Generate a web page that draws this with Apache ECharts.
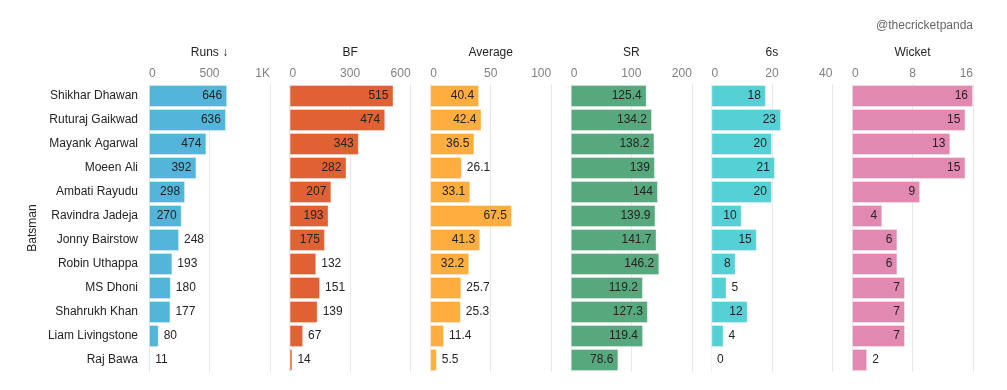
<!DOCTYPE html>
<html>
<head>
<meta charset="utf-8">
<script src="https://cdn.jsdelivr.net/npm/echarts@6/dist/echarts.min.js"></script>
<style>
html,body{margin:0;padding:0;background:#fff;}
#chart{width:1007px;height:390px;}
</style>
</head>
<body>
<div id="chart"></div>
<script>
const batsmen = ["Shikhar Dhawan","Ruturaj Gaikwad","Mayank Agarwal","Moeen Ali","Ambati Rayudu","Ravindra Jadeja","Jonny Bairstow","Robin Uthappa","MS Dhoni","Shahrukh Khan","Liam Livingstone","Raj Bawa"];
const runs    = [646,636,474,392,298,270,248,193,180,177,80,11];
const bf      = [515,474,343,282,207,193,175,132,151,139,67,14];
const average = [40.4,42.4,36.5,26.1,33.1,67.5,41.3,32.2,25.7,25.3,11.4,5.5];
const sr      = [125.4,134.2,138.2,139,144,139.9,141.7,146.2,119.2,127.3,119.4,78.6];
const sixes   = [18,23,20,21,20,10,15,8,5,12,4,0];
const wickets = [16,15,13,15,9,4,6,6,7,7,7,2];

const panelTitles = ["Runs \u2193","BF","Average","SR","6s","Wicket"];
const axisMax      = [1000,600,100,200,40,16];
const axisInterval = [500,300,50,100,20,8];
const colors = ["#53B5DA","#E06133","#FDAE3E","#57A87D","#55D0D4","#E289B1"];
const seriesData = [runs,bf,average,sr,sixes,wickets];

(function(){
const FONT = '"Liberation Sans", Arial, sans-serif';
const chart = echarts.init(document.getElementById('chart'), null, {renderer:'canvas'});

const ctx = document.createElement('canvas').getContext('2d');
ctx.font = '12px ' + FONT;

const left0 = 149, step = 140.6, gw = 121, gTop = 84, gh = 288;

function buildOption(pxFns){
  const grid = [], xAxis = [], yAxis = [], series = [];
  for (let i=0;i<6;i++){
    grid.push({left: left0 + step*i, top: gTop, width: gw, height: gh, containLabel:false});
    xAxis.push({
      type:'value', gridIndex:i, position:'top', min:0, max:axisMax[i], interval:axisInterval[i],
      name: panelTitles[i], nameLocation:'middle', nameGap:25,
      nameTextStyle:{color:'#252423', fontSize:12, fontFamily:FONT},
      axisLine:{show:false}, axisTick:{show:false},
      axisLabel:{color:'#808080', fontSize:12, fontFamily:FONT, margin:4,
        alignMinLabel:'left', alignMaxLabel:'right',
        formatter: v => v>=1000 ? (v/1000)+'K' : String(v)},
      splitLine:{show:true, lineStyle:{color:'#E6E9EE', width:1}}
    });
    yAxis.push({
      type:'category', gridIndex:i, data:batsmen, inverse:true,
      name: i===0 ? 'Batsman' : '', nameLocation:'middle', nameGap:110, nameRotate:90,
      nameTextStyle:{color:'#252423', fontSize:12, fontFamily:FONT},
      axisLine:{show:false}, axisTick:{show:false},
      axisLabel:{show:i===0, color:'#252423', fontSize:12, fontFamily:FONT, margin:11},
      splitLine:{show:false}
    });
    const vals = seriesData[i];
    const data = vals.map((v,k)=>{
      const txt = String(v);
      const tw = ctx.measureText(txt).width;
      const barPx = pxFns ? pxFns[i](v) : v/axisMax[i]*gw;
      const inside = barPx >= tw + 12;
      return {value:v, label:{position: inside ? 'insideRight' : 'right'}};
    });
    series.push({
      type:'bar', xAxisIndex:i, yAxisIndex:i, data:data,
      barCategoryGap:'8%',
      itemStyle:{color:colors[i], borderColor:'rgba(255,255,255,0.35)', borderWidth:1},
      label:{show:true, color:'#252423', fontSize:12, fontFamily:FONT, distance:5,
        formatter: p => String(p.value)},
      emphasis:{disabled:true},
      silent:true, animation:false
    });
  }
  return {
    animation:false,
    backgroundColor:'#fff',
    grid, xAxis, yAxis, series,
    graphic:[{type:'text', right:34, top:20, style:{text:'@thecricketpanda', fill:'#666', fontSize:12, fontFamily:FONT}}]
  };
}

chart.setOption(buildOption(null));
const pxFns = [];
for (let i=0;i<6;i++){
  pxFns.push(v => chart.convertToPixel({xAxisIndex:i}, v) - chart.convertToPixel({xAxisIndex:i}, 0));
}
chart.setOption(buildOption(pxFns), true);
})();
</script>
</body>
</html>
